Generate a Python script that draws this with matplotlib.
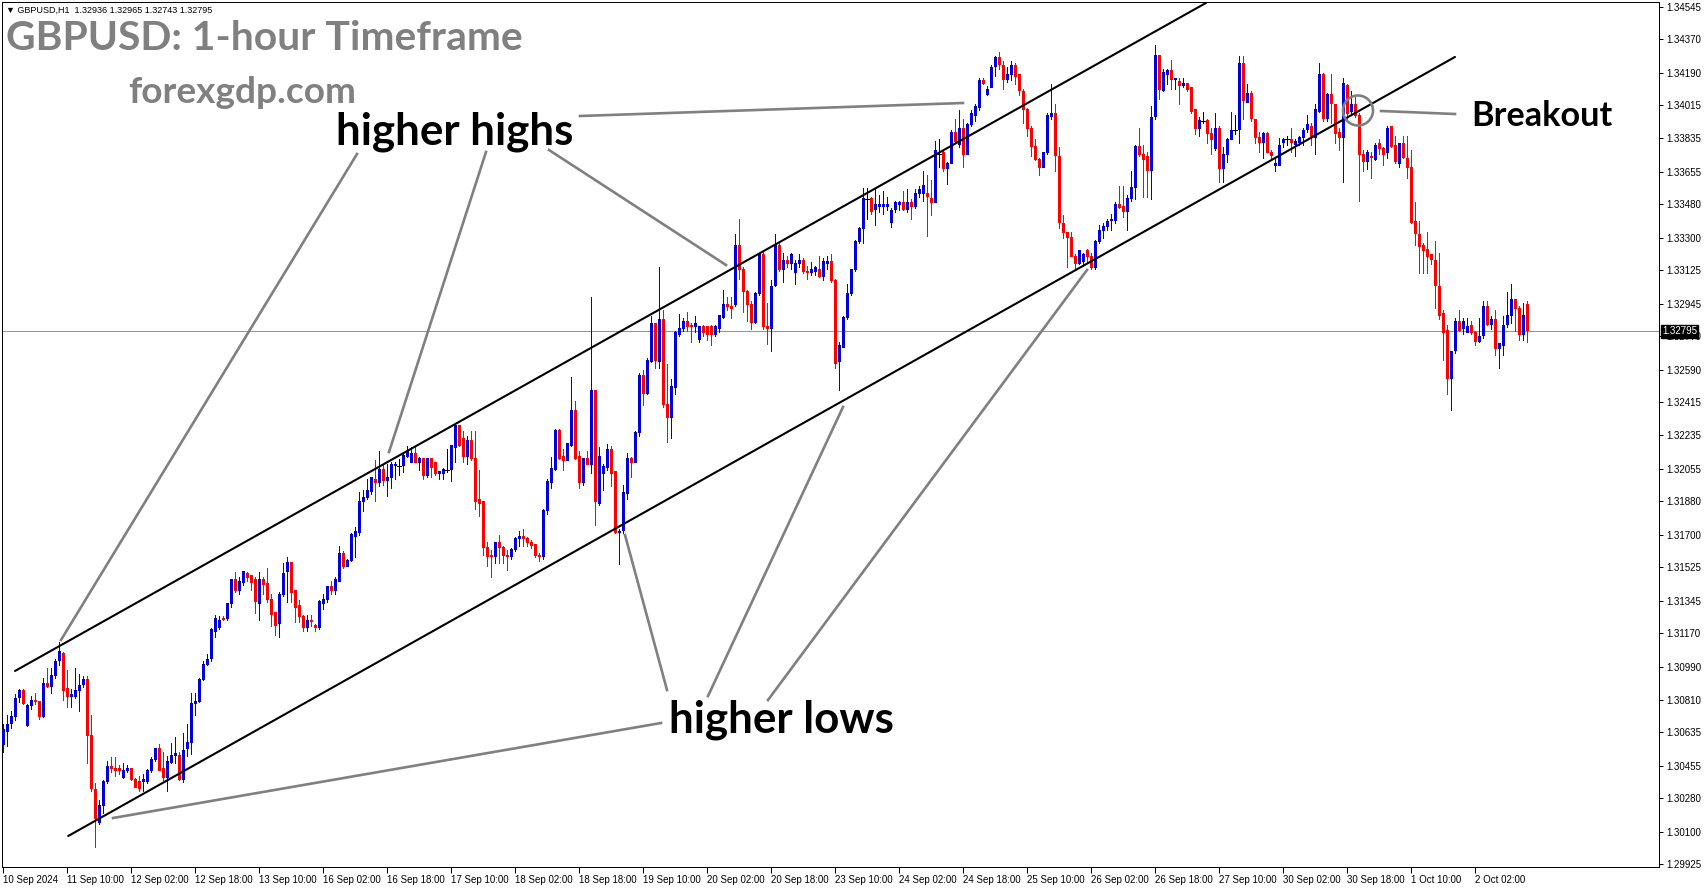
import matplotlib
matplotlib.use("Agg")
import matplotlib.pyplot as plt
import matplotlib.transforms as mtransforms
from matplotlib.lines import Line2D
from matplotlib.patches import Circle
import numpy as np

W, H, DPI = 1705, 888, 100

plt.rcParams["font.family"] = ["Liberation Sans", "DejaVu Sans"]

# GBPUSD H1 bars, 10 Sep 18:00 .. 2 Oct 15:00, in pips above 1.30000
opens = [
    57, 64, 68, 72, 82, 86, 67, 78, 81, 80,
    72, 90, 88, 94, 102, 106, 87, 83, 83, 86,
    89, 92, 62, 33, 15, 24, 37, 45, 44, 44,
    39, 43, 44, 38, 37, 37, 37, 43, 49, 55,
    44, 39, 47, 51, 51, 38, 55, 58, 79, 80,
    92, 100, 103, 118, 120, 125, 125,
    133, 146, 140, 144, 149, 148, 146, 133, 146, 144,
    135, 128, 122, 138, 150, 155, 140, 132, 126, 120,
    124, 121, 120, 133, 135, 142, 140, 145, 160, 153,
    156, 169, 171, 188, 190, 193, 200, 198, 205, 199,
    201, 207, 207, 207, 212, 209, 214, 209, 211, 202,
    211, 209, 203, 203, 205, 205, 217, 229,
    222, 212, 221, 211, 189, 188, 163, 159, 158, 166,
    163, 159, 158, 162, 168, 169, 168, 166, 165, 159,
    158, 183, 198, 205, 226, 212, 210, 218, 237, 212,
    198, 211, 208, 248, 187, 203, 206, 216, 204, 171,
    172, 192, 211, 209, 225, 256, 246, 263, 284, 263,
    286, 240, 233, 249, 278, 281, 285,
    283, 282, 275, 282, 282, 282, 278, 281, 287, 294,
    293, 294, 326, 313, 301, 294, 284, 300, 321, 282,
    281, 304, 326, 313, 318, 316, 311, 316, 318, 312,
    311, 312, 313, 309, 316, 317, 307, 263, 271, 287,
    300, 313, 328, 335, 351, 351, 345, 347, 347, 347,
    338, 345, 348, 349, 345, 349, 347, 354,
    354, 354, 351, 349, 375, 376, 367, 370, 387, 380,
    389, 375, 391, 396, 400, 415, 407, 411, 422, 427,
    423, 415, 418, 423, 418, 409, 399, 389, 379, 372,
    368, 376, 395, 397, 374, 338, 333, 330, 320, 316,
    317, 323, 320, 314, 328, 334, 336, 339, 339, 348,
    347, 344, 351, 357, 379, 375, 374,
    366, 395, 428, 409, 418, 420, 415, 414, 412, 413,
    411, 399, 389, 393, 393, 386, 378, 389, 367, 375,
    383, 388, 388, 424, 403, 408, 394, 384, 381, 386,
    376, 369, 369, 381, 383, 383, 380, 381, 384, 388,
    390, 384, 398, 418, 394, 407, 402, 387, 384, 412,
    398, 402, 396, 375, 371, 374, 372, 381,
    378, 376, 390, 380, 370, 381, 373, 368, 339, 332,
    326, 324, 321, 318, 304, 289, 280, 254, 269, 285,
    281, 279, 283, 279, 274, 277, 293, 283, 286, 270,
    272, 283, 288, 297, 292, 278, 294,
]
highs = [
    68, 73, 75, 84, 87, 87, 79, 83, 85, 80,
    93, 98, 98, 103, 112, 107, 97, 87, 98, 95,
    94, 94, 73, 36, 27, 38, 48, 50, 50, 46,
    47, 46, 44, 39, 40, 41, 44, 50, 55, 57,
    53, 51, 58, 61, 53, 63, 68, 85, 85, 93,
    102, 106, 120, 127, 126, 126, 133,
    146, 150, 147, 150, 150, 148, 147, 150, 147, 152,
    138, 128, 139, 155, 158, 155, 140, 135, 127, 127,
    127, 122, 135, 138, 142, 145, 147, 164, 161, 157,
    171, 174, 193, 194, 200, 201, 210, 215, 208, 208,
    209, 209, 211, 214, 218, 217, 217, 212, 211, 211,
    211, 209, 204, 206, 216, 218, 229, 229,
    226, 223, 226, 226, 205, 188, 166, 162, 166, 170,
    164, 162, 163, 169, 172, 173, 169, 167, 165, 160,
    184, 200, 212, 227, 227, 216, 219, 255, 242, 215,
    211, 215, 298, 248, 217, 208, 219, 218, 204, 173,
    197, 214, 212, 226, 257, 259, 265, 288, 284, 314,
    291, 262, 254, 280, 289, 287, 290,
    284, 288, 282, 283, 282, 283, 283, 288, 302, 298,
    298, 332, 340, 314, 302, 296, 301, 322, 323, 295,
    307, 332, 328, 322, 320, 322, 318, 321, 319, 315,
    317, 315, 320, 319, 320, 321, 308, 274, 288, 305,
    313, 329, 336, 357, 357, 352, 356, 353, 355, 352,
    346, 350, 350, 355, 356, 351, 356, 358,
    366, 364, 361, 382, 383, 377, 371, 388, 394, 399,
    394, 392, 399, 402, 416, 416, 412, 423, 428, 430,
    425, 422, 425, 424, 418, 410, 400, 390, 383, 373,
    376, 397, 413, 402, 379, 342, 333, 333, 321, 323,
    322, 324, 322, 329, 337, 338, 340, 343, 349, 358,
    358, 353, 366, 380, 389, 380, 376,
    401, 434, 428, 421, 421, 426, 416, 416, 416, 413,
    411, 399, 395, 398, 394, 389, 397, 390, 379, 384,
    398, 396, 428, 428, 413, 409, 394, 387, 387, 387,
    377, 373, 384, 384, 385, 389, 383, 385, 389, 396,
    392, 402, 424, 419, 408, 418, 402, 389, 416, 413,
    409, 407, 397, 377, 377, 376, 381, 383,
    379, 390, 390, 385, 381, 385, 385, 377, 349, 339,
    327, 333, 321, 328, 322, 291, 283, 269, 287, 291,
    287, 287, 285, 280, 287, 296, 296, 288, 291, 273,
    288, 301, 305, 297, 293, 295, 296,
]
lows = [
    53, 56, 66, 70, 80, 79, 67, 76, 79, 71,
    72, 88, 85, 93, 100, 81, 77, 77, 82, 75,
    88, 47, 32, 2, 14, 20, 36, 42, 40, 41,
    39, 42, 38, 34, 32, 32, 36, 42, 48, 43,
    38, 32, 47, 47, 38, 37, 51, 52, 73, 80,
    92, 100, 102, 115, 119, 124, 124,
    131, 139, 138, 143, 145, 140, 128, 124, 138, 134,
    121, 116, 115, 137, 134, 134, 123, 123, 118, 118,
    121, 118, 119, 130, 134, 138, 138, 145, 152, 153,
    156, 158, 170, 183, 189, 192, 188, 196, 197, 191,
    195, 200, 202, 204, 212, 209, 209, 205, 200, 201,
    201, 202, 200, 200, 204, 199, 209, 218,
    209, 208, 210, 184, 180, 159, 153, 147, 155, 155,
    155, 151, 157, 161, 164, 164, 164, 163, 158, 156,
    157, 181, 195, 205, 211, 205, 210, 218, 211, 195,
    197, 208, 203, 175, 186, 194, 205, 196, 171, 154,
    171, 189, 201, 209, 223, 240, 246, 263, 260, 260,
    239, 220, 222, 246, 277, 280, 280,
    274, 279, 274, 277, 275, 272, 277, 279, 287, 291,
    287, 293, 308, 290, 285, 281, 284, 299, 281, 273,
    269, 304, 312, 306, 314, 313, 305, 314, 311, 308,
    310, 310, 309, 307, 313, 306, 260, 248, 271, 286,
    299, 312, 327, 327, 340, 343, 337, 344, 343, 345,
    336, 344, 345, 345, 344, 340, 346, 352,
    350, 331, 342, 349, 368, 366, 359, 370, 381, 379,
    368, 375, 390, 393, 399, 413, 407, 411, 417, 421,
    410, 414, 415, 413, 407, 392, 385, 374, 372, 364,
    368, 375, 394, 366, 335, 330, 314, 320, 313, 316,
    315, 317, 313, 313, 327, 330, 334, 334, 338, 346,
    341, 334, 350, 351, 374, 352, 352,
    351, 394, 405, 409, 413, 410, 410, 402, 411, 409,
    397, 386, 385, 392, 381, 375, 377, 360, 360, 371,
    383, 386, 381, 394, 403, 393, 381, 376, 373, 376,
    373, 366, 369, 379, 380, 376, 374, 380, 380, 387,
    380, 375, 398, 393, 393, 392, 381, 377, 360, 393,
    397, 395, 350, 366, 367, 362, 372, 375,
    369, 373, 379, 370, 368, 373, 362, 338, 326, 311,
    311, 311, 316, 292, 286, 264, 246, 237, 268, 280,
    278, 279, 278, 272, 274, 276, 283, 281, 267, 260,
    267, 282, 284, 280, 275, 275, 274,
]
closes = [
    65, 68, 72, 82, 86, 79, 78, 81, 80, 72,
    90, 88, 94, 102, 107, 86, 83, 84, 86, 89,
    92, 62, 33, 17, 24, 37, 45, 44, 43, 43,
    43, 44, 38, 34, 33, 38, 43, 49, 55, 43,
    39, 48, 51, 52, 38, 54, 58, 79, 80, 92,
    100, 103, 119, 125, 124, 124, 133,
    146, 140, 145, 150, 147, 144, 134, 146, 143, 135,
    127, 121, 138, 149, 155, 139, 131, 126, 120, 124,
    123, 120, 134, 135, 142, 140, 146, 160, 153, 156,
    170, 172, 188, 190, 194, 201, 198, 205, 199, 201,
    208, 208, 207, 213, 215, 214, 209, 211, 202, 211,
    206, 203, 204, 205, 205, 218, 229, 218,
    212, 221, 211, 188, 187, 163, 158, 158, 166, 163,
    159, 158, 162, 168, 169, 168, 166, 164, 159, 158,
    183, 199, 206, 226, 211, 210, 219, 237, 211, 198,
    211, 208, 248, 188, 212, 207, 216, 203, 171, 172,
    193, 211, 209, 225, 256, 246, 264, 284, 264, 286,
    240, 233, 250, 279, 281, 285, 282,
    282, 284, 282, 279, 278, 278, 282, 288, 294, 293,
    292, 326, 313, 301, 294, 284, 300, 321, 282, 281,
    304, 326, 313, 318, 316, 321, 316, 318, 312, 311,
    313, 314, 309, 317, 317, 307, 262, 272, 287, 300,
    313, 328, 335, 351, 351, 344, 348, 348, 348, 348,
    345, 349, 349, 345, 349, 347, 354, 356,
    358, 352, 349, 377, 375, 367, 370, 387, 382, 389,
    375, 391, 397, 401, 415, 413, 410, 422, 427, 423,
    415, 418, 423, 417, 409, 399, 389, 379, 372, 368,
    376, 396, 397, 374, 338, 333, 330, 320, 316, 323,
    321, 320, 314, 328, 334, 336, 339, 340, 348, 346,
    344, 351, 357, 379, 375, 372, 366,
    395, 428, 410, 419, 420, 415, 416, 412, 413, 410,
    398, 389, 393, 393, 386, 383, 389, 367, 375, 383,
    388, 388, 424, 404, 408, 394, 384, 381, 386, 376,
    374, 370, 380, 383, 383, 381, 382, 384, 388, 391,
    384, 399, 418, 394, 407, 402, 386, 384, 413, 397,
    402, 396, 375, 371, 376, 373, 380, 378,
    375, 389, 379, 371, 381, 373, 368, 338, 332, 325,
    323, 320, 318, 304, 288, 279, 254, 269, 285, 280,
    285, 282, 279, 274, 277, 293, 283, 286, 270, 273,
    283, 288, 297, 292, 278, 288, 280,
]

time_labels = [
    "10 Sep 2024", "11 Sep 10:00", "12 Sep 02:00", "12 Sep 18:00",
    "13 Sep 10:00", "16 Sep 02:00", "16 Sep 18:00", "17 Sep 10:00",
    "18 Sep 02:00", "18 Sep 18:00", "19 Sep 10:00", "20 Sep 02:00",
    "20 Sep 18:00", "23 Sep 10:00", "24 Sep 02:00", "24 Sep 18:00",
    "25 Sep 10:00", "26 Sep 02:00", "26 Sep 18:00", "27 Sep 10:00",
    "30 Sep 02:00", "30 Sep 18:00", "1 Oct 10:00", "2 Oct 02:00",
]
price_ticks = [
    1.34545, 1.34370, 1.34190, 1.34015, 1.33835, 1.33655, 1.33480,
    1.33300, 1.33125, 1.32945, 1.32770, 1.32590, 1.32415, 1.32235,
    1.32055, 1.31880, 1.31700, 1.31525, 1.31345, 1.31170, 1.30990,
    1.30810, 1.30635, 1.30455, 1.30280, 1.30100, 1.29925,
]
last_price = 1.32795
header = "\u25bc GBPUSD,H1  1.32936 1.32965 1.32743 1.32795"

# trendlines: (bar index, price) end points
upper_channel = ([3.0, 300.75], [1.30966, 1.34565])
lower_channel = ([16.3, 363.0], [1.30077, 1.34274])

BLUE = "#0000dd"
RED = "#ff0000"
GREY = "#808080"

fig = plt.figure(figsize=(W / DPI, H / DPI), dpi=DPI)
fig.patch.set_facecolor("white")
# plot frame spans pixels x 2..1659, y 2..867
ax = fig.add_axes([2 / W, 1 - 867 / H, 1657 / W, 865 / H])

o = 1.3 + np.array(opens) / 1e4
h = 1.3 + np.array(highs) / 1e4
l = 1.3 + np.array(lows) / 1e4
c = 1.3 + np.array(closes) / 1e4
x = np.arange(len(c))
assert len(o) == len(h) == len(l) == len(c)

px = 0.72  # one pixel in points
for mask, col in ((c > o, BLUE), (c < o, RED)):
    ax.vlines(x[mask], l[mask], h[mask], color=col, lw=px, antialiased=False, zorder=3)
    ax.bar(x[mask], np.abs(c[mask] - o[mask]) + 0.00004, bottom=np.minimum(o, c)[mask] - 0.00002,
           width=0.75, color=col, linewidth=0, antialiased=False, zorder=3)
flat = c == o
ax.vlines(x[flat], l[flat], h[flat], color="black", lw=px, antialiased=False, zorder=3)
ax.hlines(c[flat], x[flat] - 0.45, x[flat] + 0.45, color="black", lw=px, antialiased=False, zorder=3)

ax.axhline(last_price, color="#8a96a3", lw=px, zorder=1)

for xs, ys in (upper_channel, lower_channel):
    ax.plot(xs, ys, color="black", lw=1.5, solid_capstyle="round", zorder=4)

ax.set_xlim((2 - 3) / 4, (1659 - 3) / 4)
ax.set_ylim(1.29910, 1.34570)

ax.yaxis.tick_right()
ax.set_yticks(price_ticks)
ax.set_yticklabels([f"{p:.5f}" for p in price_ticks])
ax.set_xticks(np.arange(len(time_labels)) * 16)
ax.set_xticklabels(time_labels)
for t in ax.get_xticklabels():
    t.set_horizontalalignment("left")
ax.tick_params(axis="both", direction="out", length=3, width=px, labelsize=7, pad=2, colors="black")
ax.tick_params(axis="x", length=4, pad=1.5)
for sp in ax.spines.values():
    sp.set_linewidth(px)
    sp.set_color("black")

# current-price tag on the price scale (covers the 1.32770 label, as in MT4)
ax.annotate(f"{last_price:.5f}", xy=(1, last_price), xycoords=("axes fraction", "data"),
            xytext=(3, 0), textcoords="offset pixels", ha="left", va="center",
            color="white", fontsize=7,
            bbox=dict(boxstyle="square,pad=0.12", fc="black", ec="black"),
            annotation_clip=False, zorder=10)

fig.text(6 / W, 1 - 13 / H, header, ha="left", va="baseline", fontsize=6.5, color="black")

renderer = fig.canvas.get_renderer()


def fit_text(s, x0, x1, base_y, color):
    t = fig.text(x0 / W, 1 - base_y / H, s, ha="left", va="baseline", fontsize=20,
                 color=color, fontweight="bold", family=["Lato", "DejaVu Sans"], zorder=6)
    w = t.get_window_extent(renderer).width
    t.set_fontsize(20 * (x1 - x0) / w)
    return t


fit_text("GBPUSD: 1-hour Timeframe", 6, 523, 50, GREY)
fit_text("forexgdp.com", 128, 356, 103, GREY)
fit_text("higher highs", 336, 573, 144, "black")
fit_text("higher lows", 669, 894, 732, "black")
fit_text("Breakout", 1471, 1612, 126, "black")

# grey pointer lines, in pixel coordinates (x, y from top-left)
pointers = [
    ((357, 154), (61, 640)),
    ((486, 152), (389, 452)),
    ((549, 150), (726, 265)),
    ((580, 116), (963, 103)),
    ((661, 723), (113, 818)),
    ((667, 690), (625, 535)),
    ((708, 696), (843, 407)),
    ((768, 700), (1087, 270)),
    ((1381, 111), (1455, 114)),
]
for (x0, y0), (x1, y1) in pointers:
    fig.add_artist(Line2D([x0 / W, x1 / W], [1 - y0 / H, 1 - y1 / H], transform=fig.transFigure,
                          color=GREY, lw=1.9, zorder=5))
fig.add_artist(Circle((1358, H - 110.5), 15, transform=mtransforms.IdentityTransform(),
                      fill=False, ec=GREY, lw=1.9, zorder=5))

fig.savefig("out.png", dpi=DPI, facecolor="white")
